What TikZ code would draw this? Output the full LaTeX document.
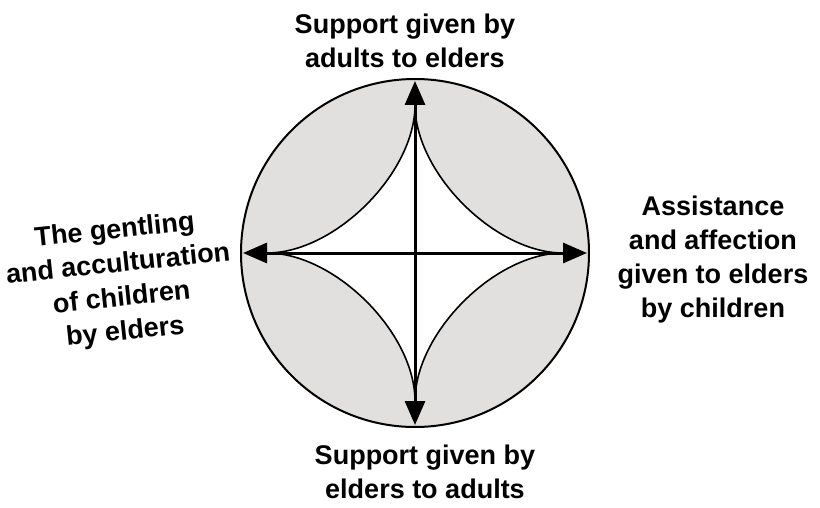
\documentclass[tikz,border=0pt]{standalone}
\usepackage{fontspec}
\setmainfont{Liberation Sans}
\usetikzlibrary{arrows.meta,calc}
\definecolor{discgray}{RGB}{226,224,222}

\begin{document}
\begin{tikzpicture}[
        x=0.5pt, y=-0.5pt,
        % Bold sans labels round the disc
        lbl/.style={align=center, font=\bfseries\fontsize{13.5}{17}\selectfont},
        flow/.style={line width=1.5pt,
            {Triangle[length=12pt,width=10pt]}-{Triangle[length=12pt,width=10pt]}},
        cusp/.style={line width=0.8pt}
    ]
        \useasboundingbox (0,0) rectangle (820,508);

        \coordinate (c) at (415,253);
        % Arrow ends on the rim
        \coordinate (top) at (415,81);
        \coordinate (bottom) at (415,425);
        \coordinate (left) at (243,253);
        \coordinate (right) at (587,253);
        % Cusps of the star
        \coordinate (cn) at (415,105);
        \coordinate (ce) at (563,253);
        \coordinate (cs) at (415,401);
        \coordinate (cw) at (267,253);

        \fill[discgray] (c) circle[radius=174];
        \fill[white] (cn) .. controls (415,173) and (495,253) .. (ce)
            .. controls (495,253) and (415,333) .. (cs)
            .. controls (415,333) and (335,253) .. (cw)
            .. controls (335,253) and (415,173) .. (cn) -- cycle;
        \draw[line width=1pt] (c) circle[radius=174];

        % Star outline
        \draw[cusp] (cn) .. controls (415,173) and (495,253) .. (ce);
        \draw[cusp] (ce) .. controls (495,253) and (415,333) .. (cs);
        \draw[cusp] (cs) .. controls (415,333) and (335,253) .. (cw);
        \draw[cusp] (cw) .. controls (335,253) and (415,173) .. (cn);

        % Connections
        \draw[flow] (bottom) -- (top);
        \draw[flow] (left) -- (right);

        \node[lbl] (node1) at (405,41) {Support given by\\adults to elders};
        \node[lbl] (node2) at (713,260) {Assistance\\and affection\\given to elders\\by children};
        \node[lbl] (node3) at (425,472) {Support given by\\elders to adults};
        \node[lbl, rotate=6] (node4) at (120,282) {The gentling\\and acculturation\\of children\\by elders};
    \end{tikzpicture}
\end{document}
